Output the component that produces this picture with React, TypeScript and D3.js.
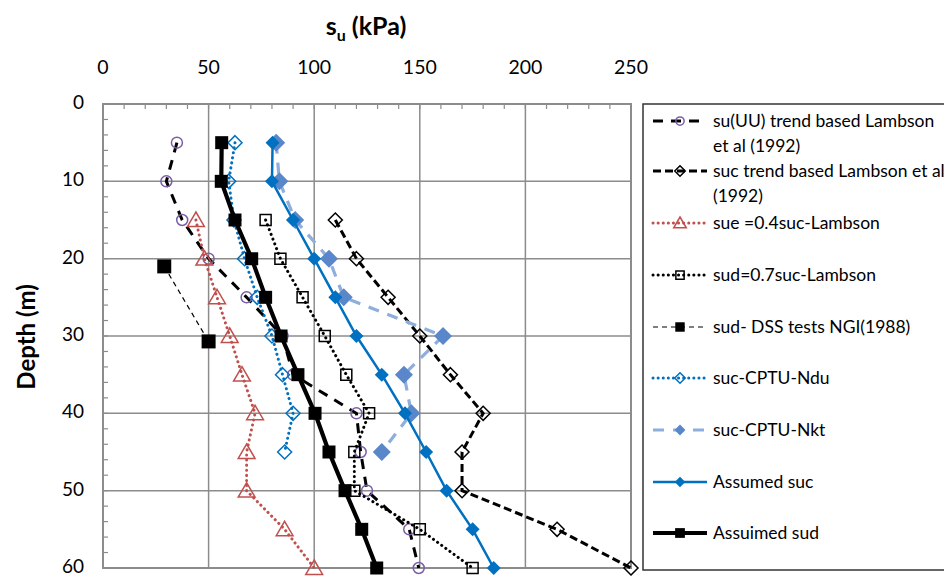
import React from "react";
import * as d3 from "d3";

const depthsUU = [5, 10, 15, 20, 25, 30, 35, 40, 45, 50, 55, 60];
const suUU = [35, 30, 37.5, 50, 68, 85, 90, 120, 122, 125, 145, 149.5];

const depthsL = [15, 20, 25, 30, 35, 40, 45, 50, 55, 60];
const sucL = [110, 120, 135, 150, 164.5, 180, 170, 170, 215, 250];
const sueL = [44, 48, 54, 60, 65.8, 72, 68, 68, 86, 100];
const sudL = [77, 84, 94.5, 105, 115.2, 126, 119, 119, 150, 175];

const depthsDSS = [21, 30.7];
const sudDSS = [29, 50];

const depthsCPTU = [5, 10, 15, 20, 25, 30, 35, 40, 45];
const sucNdu = [62.5, 59.5, 62, 67, 73, 80, 85, 90, 86];
const sucNkt = [82, 83.5, 91, 107, 114, 161, 142.5, 146, 132];

const depthsA = [5, 10, 15, 20, 25, 30, 35, 40, 45, 50, 55, 60];
const sucA = [80.3, 80, 90, 100, 110, 120, 132, 143, 153, 162.7, 175, 185];
const sudA = [56.2, 56, 62.5, 70.4, 77, 84.3, 92.3, 100.4, 107, 114.6, 122.5, 129.6];

const xTicks = [0, 50, 100, 150, 200, 250];
const yTicks = [0, 10, 20, 30, 40, 50, 60];

const legendLabels = [
  ["su(UU) trend based Lambson", "et al (1992)"],
  ["suc trend based Lambson et al", "(1992)"],
  ["sue =0.4suc-Lambson"],
  ["sud=0.7suc-Lambson"],
  ["sud- DSS tests NGI(1988)"],
  ["suc-CPTU-Ndu"],
  ["suc-CPTU-Nkt"],
  ["Assumed suc"],
  ["Assuimed sud"],
];

const FONT = "Lato, 'Open Sans', sans-serif";

type Marker = "circle" | "diamond" | "triangle" | "square" | "fsquare";

interface Series {
  xs: number[];
  ds: number[];
  stroke: string;
  width: number;
  dash: string;
  marker: Marker;
  mColor: string;
  mFill: string;
  mSize: number;
  mStroke: number;
}

const series: Series[] = [
  { xs: suUU, ds: depthsUU, stroke: "#000", width: 3, dash: "10,8", marker: "circle", mColor: "#7B5EA7", mFill: "none", mSize: 5.5, mStroke: 1.5 },
  { xs: sucL, ds: depthsL, stroke: "#000", width: 3, dash: "8,4", marker: "diamond", mColor: "#000", mFill: "none", mSize: 7, mStroke: 1.5 },
  { xs: sueL, ds: depthsL, stroke: "#C0504D", width: 3, dash: "0.1,5", marker: "triangle", mColor: "#C0504D", mFill: "none", mSize: 8, mStroke: 1.5 },
  { xs: sudL, ds: depthsL, stroke: "#000", width: 3, dash: "0.1,5", marker: "square", mColor: "#000", mFill: "none", mSize: 5.5, mStroke: 1.5 },
  { xs: sudDSS, ds: depthsDSS, stroke: "#000", width: 1.2, dash: "5,4", marker: "fsquare", mColor: "#000", mFill: "#000", mSize: 7, mStroke: 0 },
  { xs: sucNdu, ds: depthsCPTU, stroke: "#0070C0", width: 3, dash: "0.1,5", marker: "diamond", mColor: "#0070C0", mFill: "none", mSize: 7, mStroke: 1.5 },
  { xs: sucNkt, ds: depthsCPTU, stroke: "#8EAEDC", width: 3.2, dash: "11,9", marker: "diamond", mColor: "#5A87C9", mFill: "#5A87C9", mSize: 9, mStroke: 0 },
  { xs: sucA, ds: depthsA, stroke: "#0070C0", width: 2.5, dash: "", marker: "diamond", mColor: "#0070C0", mFill: "#0070C0", mSize: 7, mStroke: 0 },
  { xs: sudA, ds: depthsA, stroke: "#000", width: 4.2, dash: "", marker: "fsquare", mColor: "#000", mFill: "#000", mSize: 6.5, mStroke: 0 },
];

const legendMarkerScale = [1, 1, 1, 1, 0.9, 1, 0.8, 1, 1];

function markerPath(m: Marker, cx: number, cy: number, s: number): string {
  switch (m) {
    case "diamond":
      return `M${cx},${cy - s}L${cx + s},${cy}L${cx},${cy + s}L${cx - s},${cy}Z`;
    case "triangle":
      return `M${cx},${cy - s}L${cx + s * 1.05},${cy + s * 0.8}L${cx - s * 1.05},${cy + s * 0.8}Z`;
    case "square":
    case "fsquare":
      return `M${cx - s},${cy - s}h${2 * s}v${2 * s}h${-2 * s}Z`;
    default:
      return "";
  }
}

function MarkerEl({ s, cx, cy, scale = 1 }: { s: Series; cx: number; cy: number; scale?: number }) {
  const size = s.mSize * scale;
  if (s.marker === "circle") {
    return <circle cx={cx} cy={cy} r={size} fill="none" stroke={s.mColor} strokeWidth={s.mStroke} />;
  }
  return (
    <path
      d={markerPath(s.marker, cx, cy, size)}
      fill={s.mFill}
      stroke={s.mStroke ? s.mColor : "none"}
      strokeWidth={s.mStroke}
    />
  );
}

export default function App() {
  const x = d3.scaleLinear().domain([0, 250]).range([103, 631]);
  const y = d3.scaleLinear().domain([0, 60]).range([104, 568]);
  const line = d3
    .line<[number, number]>()
    .x((p) => x(p[0]))
    .y((p) => y(p[1]));

  const minorX = d3.range(0, 251, 10);
  const minorY = d3.range(0, 61, 2);
  const grid = "#8C8C8C";

  const legendRows = [121, 171, 223, 275, 327, 378, 430, 482, 533];

  return (
    <svg
      width={944}
      height={576}
      style={{ position: "absolute", left: 0, top: 0, background: "#fff" }}
      fontFamily={FONT}
    >
      <rect x={0} y={0} width={944} height={576} fill="#fff" />
      {xTicks.map((t) => (
        <line key={"gx" + t} x1={x(t)} x2={x(t)} y1={y(0)} y2={y(60)} stroke={grid} strokeWidth={1.5} />
      ))}
      {yTicks.map((t) => (
        <line key={"gy" + t} x1={x(0)} x2={x(250)} y1={y(t)} y2={y(t)} stroke={grid} strokeWidth={1.5} />
      ))}
      {minorX.map((t) => (
        <line key={"mx" + t} x1={x(t)} x2={x(t)} y1={y(0)} y2={y(0) + 5} stroke={grid} strokeWidth={1.2} />
      ))}
      {minorY.map((t) => (
        <line key={"my" + t} x1={x(0)} x2={x(0) + 5} y1={y(t)} y2={y(t)} stroke={grid} strokeWidth={1.2} />
      ))}
      <rect x={x(0)} y={y(0)} width={x(250) - x(0)} height={y(60) - y(0)} fill="none" stroke={grid} strokeWidth={2} />

      {xTicks.map((t) => (
        <text key={"tx" + t} x={x(t)} y={74} textAnchor="middle" fontSize={19.5} fill="#000">
          {t}
        </text>
      ))}
      {yTicks.map((t) => (
        <text key={"ty" + t} x={84} y={y(t) + 5} textAnchor="end" fontSize={19} fill="#000">
          {t}
        </text>
      ))}

      <text x={366} y={35} textAnchor="middle" fontSize={25} fontWeight="bold" fill="#000">
        s<tspan fontSize={16} dy={6}>u</tspan>
        <tspan dy={-6}> (kPa)</tspan>
      </text>
      <text
        transform={`translate(35,337) rotate(-90)`}
        textAnchor="middle"
        fontSize={24}
        fontWeight="bold"
        fill="#000"
      >
        Depth (m)
      </text>

      {series.map((s, i) => {
        const pts = s.xs.map((v, j) => [v, s.ds[j]] as [number, number]);
        const dotted = s.dash.startsWith("0.1");
        return (
          <g key={"s" + i}>
            <path
              d={line(pts) || ""}
              fill="none"
              stroke={s.stroke}
              strokeWidth={s.width}
              strokeDasharray={s.dash || undefined}
              strokeLinecap={dotted ? "round" : "butt"}
            />
            {pts.map((p, j) => (
              <MarkerEl key={j} s={s} cx={x(p[0])} cy={y(p[1])} />
            ))}
          </g>
        );
      })}

      <rect x={643} y={104} width={320} height={466} fill="#fff" stroke="#333" strokeWidth={1.5} />
      {series.map((s, i) => {
        const ly = legendRows[i];
        const dotted = s.dash.startsWith("0.1");
        return (
          <g key={"l" + i}>
            <line
              x1={653}
              x2={707}
              y1={ly}
              y2={ly}
              stroke={s.stroke}
              strokeWidth={s.width}
              strokeDasharray={s.dash || undefined}
              strokeLinecap={dotted ? "round" : "butt"}
            />
            <MarkerEl s={s} cx={680} cy={ly} scale={0.75 * legendMarkerScale[i]} />
            {legendLabels[i].map((t, k) => (
              <text key={k} x={713} y={ly + 6 + k * 24.5} fontSize={17.5} fill="#000">
                {t}
              </text>
            ))}
          </g>
        );
      })}
    </svg>
  );
}
